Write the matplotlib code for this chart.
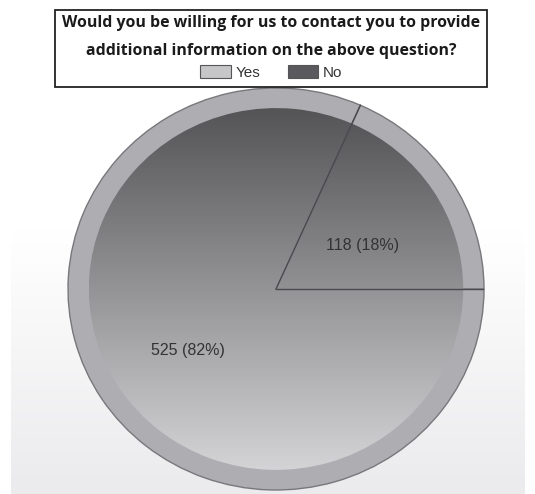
import matplotlib.pyplot as plt
import numpy as np
from matplotlib.patches import Rectangle, Patch

# survey answers
labels = ['Yes', 'No']
counts = [525, 118]
legend_colors = ['#c6c6c8', '#5a5a5e']
title = 'Would you be willing for us to contact you to provide\nadditional information on the above question?'

total = sum(counts)

fig = plt.figure(figsize=(5.35, 4.94), dpi=100)

# soft background gradient (white on top, light grey lower half)
bg = fig.add_axes([0, 0, 1, 1], zorder=0)
bg.axis('off')
yy = np.linspace(0, 1, 200)[:, None]
shade = np.clip((yy - 0.47) / 0.5, 0, 1)
bg_img = np.ones((200, 1, 3))
bg_img[:, :, :] = (1 - shade * 0.075)[:, :, None]
bg_img[:, :, 2] += shade[:, :] * 0.008
bg.imshow(np.clip(bg_img, 0, 1), extent=[0.02, 0.98, 0, 1], aspect='auto', origin='upper')
bg.set_xlim(0, 1)
bg.set_ylim(0, 1)

# pie area
ax = fig.add_axes([0.1271, 0.0081, 0.7776, 0.8138], zorder=1)

# outer rim
wedges, _, autotexts = ax.pie(
    counts, startangle=0, counterclock=False, radius=1.0,
    colors=['#aeaeb2'] * 2,
    wedgeprops=dict(edgecolor='#78787c', linewidth=1.0),
    autopct=lambda p: f'{round(p * total / 100)} ({p:.0f}%)',
    pctdistance=0.48, frame=True,
    textprops=dict(color='#333333', fontsize=11.5, family='Liberation Sans'))

# inner gradient discs clipped to each slice
inner, _ = ax.pie(counts, startangle=0, counterclock=False, radius=0.9,
                  colors=['none', 'none'], wedgeprops=dict(linewidth=0), frame=True)
ax.set_aspect('auto')
grad = np.linspace(0.33, 0.83, 256)[:, None]
for w, off in zip(inner, [0.0, -0.01]):
    g = np.clip(grad + off, 0, 1)
    img = np.concatenate([g, g, g + 0.01], axis=1)[:, None, :]
    im = ax.imshow(np.clip(img, 0, 1), extent=[-0.9, 0.9, -0.9, 0.9],
                   aspect='auto', origin='upper', zorder=2)
    im.set_clip_path(w)
ax.set_xlim(-1, 1)
ax.set_ylim(-1, 1)
ax.axis('off')

# slice boundaries
cum = 0
for c in counts:
    ang = np.deg2rad(-360 * cum / total)
    ax.plot([0, np.cos(ang)], [0, np.sin(ang)], color='#4a4a4e', lw=1.0, zorder=3)
    cum += c

for t, dx in zip(autotexts, [-0.02, 0.015]):
    x, y = t.get_position()
    t.set_position((x + dx, y - 0.045))
    t.set_zorder(5)

# title box
fig.patches.append(Rectangle((0.1028, 0.8239), 0.8075, 0.1559, transform=fig.transFigure,
                             facecolor='white', edgecolor='#222222', linewidth=1.3, zorder=2))
fig.text(0.507, 0.925, title, ha='center', va='center', fontsize=11.4,
         fontweight='bold', family='Open Sans', color='#1a1a1a', linespacing=1.95, zorder=3)

handles = [Patch(facecolor=c, edgecolor='#555555', linewidth=0.8) for c in legend_colors]
leg = fig.legend(handles, labels, loc='center', bbox_to_anchor=(0.507, 0.853), ncol=2,
                 frameon=False, handlelength=2.0, handleheight=0.85,
                 handletextpad=0.3, columnspacing=1.8, prop=dict(family='Liberation Sans', size=11))
for t in leg.get_texts():
    t.set_color('#333333')
leg.set_zorder(4)

fig.savefig('out.png', dpi=100)
